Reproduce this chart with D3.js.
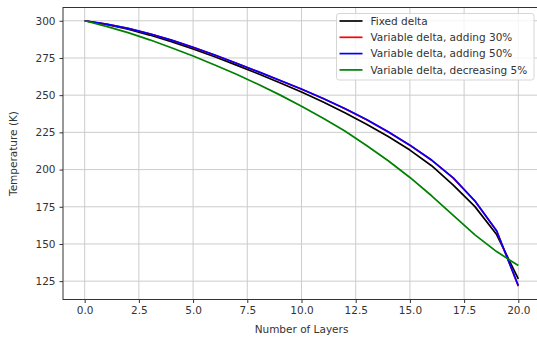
<!DOCTYPE html>
<html>
<head>
<meta charset="utf-8">
<script src="https://cdn.jsdelivr.net/npm/d3@7"></script>
<style>
  body { margin: 0; background: white; }
  svg { display: block; font-family: "DejaVu Sans", sans-serif; }
</style>
</head>
<body>
<div id="chart"></div>
<script>
// Data
const layers = d3.range(0, 21);
const fixedDelta = [300, 297.5, 294.3, 290.4, 286.0, 281.1, 275.8, 270.2, 264.4, 258.4, 252.1,
  245.4, 238.2, 230.5, 222.2, 213.1, 202.6, 189.6, 175.1, 156.3, 126.5];
const adding30 = [300, 297.8, 294.9, 291.3, 287.0, 282.1, 276.9, 271.4, 265.7, 259.9, 254.0,
  247.7, 240.9, 233.5, 225.3, 216.3, 206.3, 194.3, 178.8, 158.7, 121.6];
const adding50 = [300, 297.8, 294.9, 291.3, 287.0, 282.2, 277.0, 271.5, 265.8, 260.0, 254.1,
  247.8, 241.0, 233.6, 225.4, 216.4, 206.4, 194.4, 178.9, 158.9, 122.0];
const decreasing5 = [300, 296.2, 292.0, 287.2, 281.9, 276.3, 270.3, 264.0, 257.3, 250.2, 242.6,
  234.5, 225.9, 216.2, 205.9, 194.7, 182.4, 169.2, 156.1, 144.9, 135.5];

const seriesNames = ["Fixed delta", "Variable delta, adding 30%",
  "Variable delta, adding 50%", "Variable delta, decreasing 5%"];
const seriesValues = [fixedDelta, adding30, adding50, decreasing5];
const seriesColors = ["#000000", "#ff0000", "#0000ff", "#008000"];

const xTicks = [0, 2.5, 5, 7.5, 10, 12.5, 15, 17.5, 20];
const yTicks = [125, 150, 175, 200, 225, 250, 275, 300];

// Size of the page and the plot frame
const totalWidth = 537;
const totalHeight = 337;
const margin = { top: 7.5, right: -3, bottom: 37.5, left: 63 };
const width = totalWidth - margin.left - margin.right;
const height = totalHeight - margin.top - margin.bottom;
const fontSize = "10.5px";

const svg = d3
  .select("#chart")
  .append("svg")
  .attr("width", totalWidth)
  .attr("height", totalHeight)
  .append("g")
  .attr("transform", `translate(${margin.left}, ${margin.top})`);

// Scales with matplotlib style 5% padding
const x = d3.scaleLinear().domain([-1, 21]).range([0, width]);
const allValues = seriesValues.flat();
const [yMin, yMax] = d3.extent(allValues);
const pad = (yMax - yMin) * 0.05;
const y = d3.scaleLinear().domain([yMin - pad, yMax + pad]).range([height, 0]);

// Grid lines
svg
  .append("g")
  .selectAll("line")
  .data(xTicks)
  .enter()
  .append("line")
  .attr("x1", (d) => x(d))
  .attr("x2", (d) => x(d))
  .attr("y1", 0)
  .attr("y2", height)
  .attr("stroke", "#cccccc")
  .attr("stroke-width", 1);
svg
  .append("g")
  .selectAll("line")
  .data(yTicks)
  .enter()
  .append("line")
  .attr("x1", 0)
  .attr("x2", width)
  .attr("y1", (d) => y(d))
  .attr("y2", (d) => y(d))
  .attr("stroke", "#cccccc")
  .attr("stroke-width", 1);

// Lines
const line = d3
  .line()
  .x((d, i) => x(layers[i]))
  .y((d) => y(d));
seriesValues.forEach((values, k) => {
  svg
    .append("path")
    .datum(values)
    .attr("fill", "none")
    .attr("stroke", seriesColors[k])
    .attr("stroke-width", 1.7)
    .attr("stroke-linejoin", "round")
    .attr("d", line);
});

// Axes
svg
  .append("g")
  .attr("transform", `translate(0, ${height})`)
  .call(d3.axisBottom(x).tickValues(xTicks).tickFormat(d3.format(".1f")).tickSizeOuter(0).tickSize(3.5).tickPadding(4));
svg
  .append("g")
  .call(d3.axisLeft(y).tickValues(yTicks).tickSizeOuter(0).tickSize(3.5).tickPadding(4));
svg.selectAll("path.domain").remove();
svg.selectAll("g.tick line").attr("stroke", "#333");
svg
  .selectAll("g.tick text")
  .style("font-size", fontSize)
  .style("font-family", "'DejaVu Sans', sans-serif")
  .attr("fill", "#333");

// Frame
svg
  .append("rect")
  .attr("x", 0)
  .attr("y", 0)
  .attr("width", width)
  .attr("height", height)
  .attr("fill", "none")
  .attr("stroke", "#333")
  .attr("stroke-width", 1);

// Axis titles
svg
  .append("text")
  .attr("x", x(10))
  .attr("y", height + 33.5)
  .attr("text-anchor", "middle")
  .style("font-size", fontSize)
  .attr("fill", "#333")
  .text("Number of Layers");
svg
  .append("text")
  .attr("transform", `translate(${-46}, ${height / 2}) rotate(-90)`)
  .attr("text-anchor", "middle")
  .style("font-size", fontSize)
  .attr("fill", "#333")
  .text("Temperature (K)");

// Legend
const legend = svg.append("g").attr("transform", `translate(${336.5 - margin.left}, ${13.5 - margin.top})`);
legend
  .append("rect")
  .attr("width", 197.5)
  .attr("height", 66.5)
  .attr("rx", 2.5)
  .attr("fill", "white")
  .attr("fill-opacity", 0.8)
  .attr("stroke", "#d6d6d6");
seriesNames.forEach((name, k) => {
  const rowY = 7.5 + k * 16.3;
  legend
    .append("line")
    .attr("x1", 3)
    .attr("x2", 26)
    .attr("y1", rowY)
    .attr("y2", rowY)
    .attr("stroke", seriesColors[k])
    .attr("stroke-width", 1.7);
  legend
    .append("text")
    .attr("x", 34)
    .attr("y", rowY)
    .attr("dy", "0.35em")
    .style("font-size", fontSize)
    .attr("fill", "#333")
    .text(name);
});
</script>
</body>
</html>
